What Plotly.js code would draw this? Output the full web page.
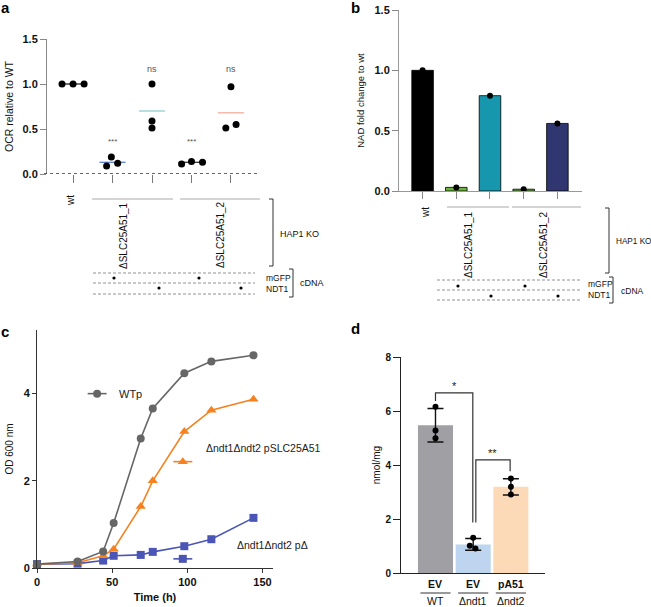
<!DOCTYPE html>
<html>
<head>
<meta charset="utf-8">
<script src="https://cdn.plot.ly/plotly-3.0.1.min.js"></script>
<style>html,body{margin:0;padding:0;background:#fff}#chart{width:651px;height:607px}</style>
</head>
<body>
<div id="chart"></div>
<script>
// ---------- DATA ----------
// Panel a: OCR relative to WT
const ocrGroups = ['wt', 'ΔSLC25A51_1 mGFP', 'ΔSLC25A51_1 NDT1', 'ΔSLC25A51_2 mGFP', 'ΔSLC25A51_2 NDT1'];
const ocrGroupIndex = [0, 0, 0, 1, 1, 1, 2, 2, 2, 3, 3, 3, 4, 4, 4];
const ocrJitter = [-0.28, 0, 0.28, -0.15, -0.03, 0.13, 0, 0, 0, -0.25, 0, 0.28, 0, -0.13, 0.13];
const ocrValues = [1.0, 1.0, 1.0, 0.09, 0.19, 0.12, 1.0, 0.59, 0.51, 0.11, 0.14, 0.13, 0.97, 0.51, 0.55];
const ocrMeans = [1.0, 0.13, 0.70, 0.13, 0.68];
const ocrSig = ['', '***', 'ns', '***', 'ns'];
const ocrSigY = [null, 0.36, 1.17, 0.36, 1.17];

// Panel b: NAD fold change to wt
const nadGroups = ['wt', 'ΔSLC25A51_1 mGFP', 'ΔSLC25A51_1 NDT1', 'ΔSLC25A51_2 mGFP', 'ΔSLC25A51_2 NDT1'];
const nadValues = [1.0, 0.03, 0.79, 0.015, 0.56];

// Panel c: growth curves
const timeH = [0, 27, 44, 51, 69, 77, 98, 116, 144];
const odWTp = [0.09, 0.15, 0.38, 1.03, 2.97, 3.66, 4.47, 4.74, 4.88];
const odSLC = [0.09, 0.12, 0.28, 0.43, 1.41, 2.00, 3.13, 3.62, 3.87];
const odEmpty = [0.09, 0.10, 0.17, 0.28, 0.30, 0.37, 0.50, 0.66, 1.15];
const growthNames = ['WTp', 'Δndt1Δndt2 pSLC25A51', 'Δndt1Δndt2 pΔ'];
const keyX = [40, 97, 97];
const keyY = [4.0, 2.44, 0.21];
const labelX = [53, 111, 132];
const labelY = [4.0, 2.75, 0.53];

// Panel d: nmol/mg
const dTop = ['EV', 'EV', 'pA51'];
const dBottom = ['WT', 'Δndt1', 'Δndt2'];
const dMeans = [5.47, 1.06, 3.19];
const dSD = [0.62, 0.22, 0.30];
const dPointGroup = [0, 0, 0, 1, 1, 1, 2, 2, 2];
const dPointJitter = [0, 0, 0, 0, -0.09, 0.06, 0, 0, 0];
const dPointValues = [6.16, 5.28, 4.99, 1.31, 1.01, 0.91, 3.50, 3.19, 2.91];

// ---------- HELPERS ----------
const W = 651, H = 607;
const X = p => p / W;
const Y = p => 1 - p / H;
const FONT = 'Liberation Sans, Arial, Helvetica, sans-serif';
const DASH = '3px,2px';
const traces = [];
const shapes = [];
const ann = [];
function pline(x0, y0, x1, y1, color, width, dash) {
  shapes.push({type: 'line', xref: 'paper', yref: 'paper', x0: X(x0), y0: Y(y0), x1: X(x1), y1: Y(y1),
    line: {color: color, width: width || 1, dash: dash || 'solid'}});
}
function pdot(x, y) {
  shapes.push({type: 'circle', xref: 'paper', yref: 'paper', x0: X(x - 1.6), x1: X(x + 1.6), y0: Y(y + 1.6), y1: Y(y - 1.6),
    fillcolor: '#000', line: {width: 0}});
}
function ptext(text, x, y, opts) {
  ann.push(Object.assign({text: text, xref: 'paper', yref: 'paper', x: X(x), y: Y(y), showarrow: false,
    font: {family: FONT, size: 9, color: '#111'}, xanchor: 'center', yanchor: 'middle'}, opts || {}));
}

// ---------- PANEL A ----------
const meanColors = ['#222', '#5b7fd6', '#92d0d2', '#333', '#f5ae9e'];
ocrMeans.forEach((m, i) => {
  traces.push({type: 'scatter', mode: 'lines', xaxis: 'x', yaxis: 'y', x: [i - 0.33, i + 0.33], y: [m, m],
    line: {color: meanColors[i], width: 1.3}, hoverinfo: 'skip'});
});
traces.push({type: 'scatter', mode: 'markers', xaxis: 'x', yaxis: 'y', cliponaxis: false,
  x: ocrGroupIndex.map((g, i) => g + ocrJitter[i]), y: ocrValues,
  marker: {color: '#000', size: 7}, hoverinfo: 'y'});
ocrSig.forEach((s, i) => {
  if (s) ann.push({text: s, x: i, y: ocrSigY[i], xref: 'x', yref: 'y', showarrow: false,
    font: {family: FONT, size: s === 'ns' ? 9 : 8, color: '#555'}});
});
shapes.push({type: 'line', xref: 'paper', yref: 'y', x0: X(44), x1: X(258), y0: 0, y1: 0,
  line: {color: '#333', width: 1.3, dash: 'dot'}});
// labels under a
ptext('wt', 70, 201, {textangle: -90, font: {family: FONT, size: 10, color: '#111'}});
pline(92, 199, 173, 199, '#aaa', 1);
pline(180, 199, 260, 199, '#aaa', 1);
ptext('ΔSLC25A51_1', 123, 235, {textangle: -90, font: {family: FONT, size: 10, color: '#111'}});
ptext('ΔSLC25A51_2', 220, 235, {textangle: -90, font: {family: FONT, size: 10, color: '#111'}});
pline(273, 199, 273, 266, '#333', 1); pline(269, 199, 273, 199, '#333', 1); pline(269, 266, 273, 266, '#333', 1);
ptext('HAP1 KO', 278, 234, {xanchor: 'left'});
[273, 283, 294].forEach(y => pline(93, y, 255, y, '#777', 0.8, DASH));
pdot(114, 278); pdot(199, 278); pdot(159, 288); pdot(241, 288);
ptext('mGFP', 264, 278, {xanchor: 'left', font: {family: FONT, size: 8.5, color: '#111'}});
ptext('NDT1', 264, 289, {xanchor: 'left', font: {family: FONT, size: 8.5, color: '#111'}});
pline(293, 269, 293, 297, '#333', 1); pline(289, 269, 293, 269, '#333', 1); pline(289, 297, 293, 297, '#333', 1);
ptext('cDNA', 298, 283, {xanchor: 'left'});

// ---------- PANEL B ----------
const nadColors = ['#000000', '#6cb33f', '#1797ae', '#6cb33f', '#2f3670'];
traces.push({type: 'bar', xaxis: 'x2', yaxis: 'y2', x: nadGroups.map((g, i) => i), y: nadValues, width: 0.64,
  marker: {color: nadColors, line: {color: '#000', width: 0.8}}, hoverinfo: 'y'});
traces.push({type: 'scatter', mode: 'markers', xaxis: 'x2', yaxis: 'y2', cliponaxis: false,
  x: nadGroups.map((g, i) => i), y: nadValues, marker: {color: '#000', size: 6}, hoverinfo: 'skip'});
ptext('wt', 425, 213, {textangle: -90, font: {family: FONT, size: 10, color: '#111'}});
pline(447, 207, 509, 207, '#aaa', 1);
pline(512, 207, 581, 207, '#aaa', 1);
ptext('ΔSLC25A51_1', 468, 245, {textangle: -90, font: {family: FONT, size: 10, color: '#111'}});
ptext('ΔSLC25A51_2', 543, 245, {textangle: -90, font: {family: FONT, size: 10, color: '#111'}});
pline(609, 208, 609, 273, '#333', 1); pline(605, 208, 609, 208, '#333', 1); pline(605, 273, 609, 273, '#333', 1);
ptext('HAP1 KO', 614, 241, {xanchor: 'left', font: {family: FONT, size: 8.2, color: '#111'}});
[280, 290, 300].forEach(y => pline(437, y, 582, y, '#777', 0.8, DASH));
pdot(458, 286); pdot(525, 286); pdot(491, 296); pdot(558, 296);
ptext('mGFP', 586, 284, {xanchor: 'left', font: {family: FONT, size: 8.5, color: '#111'}});
ptext('NDT1', 586, 295, {xanchor: 'left', font: {family: FONT, size: 8.5, color: '#111'}});
pline(613, 277, 613, 303, '#333', 1); pline(609, 277, 613, 277, '#333', 1); pline(609, 303, 613, 303, '#333', 1);
ptext('cDNA', 619, 291, {xanchor: 'left', font: {family: FONT, size: 8.5, color: '#111'}});

// ---------- PANEL C ----------
const gColors = ['#666666', '#f5821f', '#4b55b5'];
const gSymbols = ['circle', 'triangle-up', 'square'];
const gSeries = [odWTp, odSLC, odEmpty];
[2, 1, 0].forEach(k => {
  traces.push({type: 'scatter', mode: 'lines+markers', xaxis: 'x3', yaxis: 'y3', cliponaxis: false,
    name: growthNames[k], x: timeH, y: gSeries[k],
    line: {color: gColors[k], width: 1.6}, marker: {color: gColors[k], symbol: gSymbols[k], size: k === 1 ? 9 : 8}});
});
growthNames.forEach((n, k) => {
  traces.push({type: 'scatter', mode: 'lines', xaxis: 'x3', yaxis: 'y3', x: [keyX[k] - 6.3, keyX[k] + 6.3], y: [keyY[k], keyY[k]],
    line: {color: gColors[k], width: 1.6}, hoverinfo: 'skip'});
  traces.push({type: 'scatter', mode: 'markers', xaxis: 'x3', yaxis: 'y3', x: [keyX[k]], y: [keyY[k]],
    marker: {color: gColors[k], symbol: gSymbols[k], size: k === 1 ? 9 : 8}, hoverinfo: 'skip'});
  ann.push({text: n, x: labelX[k], y: labelY[k], xref: 'x3', yref: 'y3', xanchor: 'left', yanchor: 'middle', showarrow: false,
    font: {family: FONT, size: k === 0 ? 11 : 10.5, color: '#222'}});
});

// ---------- PANEL D ----------
const dColors = ['#a09fa4', '#bdd5ee', '#fcd9b7'];
traces.push({type: 'bar', xaxis: 'x4', yaxis: 'y4', x: [0, 1, 2], y: dMeans, width: 0.93,
  marker: {color: dColors, line: {width: 0}},
  error_y: {type: 'data', array: dSD, visible: true, color: '#111', thickness: 1.4, width: 8}, hoverinfo: 'y'});
traces.push({type: 'scatter', mode: 'markers', xaxis: 'x4', yaxis: 'y4',
  x: dPointGroup.map((g, i) => g + dPointJitter[i]), y: dPointValues, marker: {color: '#000', size: 6}, hoverinfo: 'y'});
const br = {color: '#333', width: 1.2};
shapes.push({type: 'path', xref: 'x4', yref: 'y4', path: 'M0,6.37 L0,6.67 L0.99,6.67 L0.99,1.87', line: br});
shapes.push({type: 'path', xref: 'x4', yref: 'y4', path: 'M1.07,1.87 L1.07,4.19 L1.98,4.19 L1.98,3.77', line: br});
ann.push({text: '*', x: 0.5, y: 6.92, xref: 'x4', yref: 'y4', showarrow: false, font: {family: FONT, size: 11, color: '#222'}});
ann.push({text: '**', x: 1.52, y: 4.45, xref: 'x4', yref: 'y4', showarrow: false, font: {family: FONT, size: 11, color: '#222'}});
dTop.forEach((t, i) => {
  ann.push({text: '<b>' + t + '</b>', x: i, xref: 'x4', y: Y(584), yref: 'paper', showarrow: false, yanchor: 'middle',
    font: {family: FONT, size: 10.5, color: '#111'}});
  ann.push({text: dBottom[i], x: i, xref: 'x4', y: Y(601), yref: 'paper', showarrow: false, yanchor: 'middle',
    font: {family: FONT, size: 10.5, color: '#111'}});
  shapes.push({type: 'line', xref: 'x4', yref: 'paper', x0: i - 0.4, x1: i + 0.4, y0: Y(593), y1: Y(593),
    line: {color: '#333', width: 1}});
});

// ---------- PANEL LABELS ----------
[['a', 5, 8], ['b', 355, 7], ['c', 5, 331], ['d', 355, 329]].forEach(l => {
  ptext('<b>' + l[0] + '</b>', l[1], l[2], {font: {family: FONT, size: 15, color: '#000'}});
});

// ---------- LAYOUT ----------
const tf = (s) => ({family: FONT, size: s, color: '#111', weight: 'bold'});
const layout = {
  width: W, height: H, margin: {l: 0, r: 0, t: 0, b: 0}, showlegend: false,
  paper_bgcolor: '#fff', plot_bgcolor: 'rgba(0,0,0,0)', font: {family: FONT},
  xaxis: {domain: [X(47), X(257)], range: [-0.66, 4.66], anchor: 'y', showgrid: false, zeroline: false, showline: false,
    tickvals: [0, 1, 2, 3, 4], ticks: 'outside', ticklen: 8, tickcolor: '#777', showticklabels: false, fixedrange: true},
  yaxis: {domain: [Y(174), Y(39)], range: [0, 1.5], anchor: 'x', showgrid: false, zeroline: false, showline: true, linecolor: '#888',
    tickvals: [0, 0.5, 1, 1.5], ticktext: ['0.0', '0.5', '1.0', '1.5'], ticks: 'outside', ticklen: 6, tickcolor: '#888',
    tickfont: tf(11), title: {text: 'OCR relative to WT', font: {family: FONT, size: 10.5, color: '#111'}, standoff: 6}},
  xaxis2: {domain: [X(399), X(582)], range: [-0.7, 4.73], anchor: 'y2', showgrid: false, zeroline: false, showline: true, linecolor: '#999',
    tickvals: [0, 1, 2, 3, 4], ticks: 'outside', ticklen: 7, tickcolor: '#888', showticklabels: false},
  yaxis2: {domain: [Y(191), Y(10)], range: [0, 1.5], anchor: 'x2', showgrid: false, zeroline: false, showline: true, linecolor: '#999',
    tickvals: [0, 0.5, 1, 1.5], ticktext: ['0.0', '0.5', '1.0', '1.5'], ticks: 'outside', ticklen: 6, tickcolor: '#888',
    tickfont: tf(11), title: {text: 'NAD fold change to wt', font: {family: FONT, size: 9.5, color: '#111'}, standoff: 8}},
  xaxis3: {domain: [X(37), X(273)], range: [0, 157], anchor: 'y3', showgrid: false, zeroline: false, showline: true, linecolor: '#333',
    tickvals: [0, 50, 100, 150], ticks: 'outside', ticklen: 4, tickcolor: '#333', tickfont: tf(11),
    title: {text: '<b>Time (h)</b>', font: {family: FONT, size: 11, color: '#111'}, standoff: 6}},
  yaxis3: {domain: [Y(568), Y(330)], range: [0, 5.46], anchor: 'x3', showgrid: false, zeroline: false, showline: true, linecolor: '#333',
    tickvals: [0, 2, 4], ticks: 'outside', ticklen: 4, tickcolor: '#333', tickfont: tf(11),
    title: {text: 'OD 600 nm', font: {family: FONT, size: 10, color: '#111'}, standoff: 8}},
  xaxis4: {domain: [X(401), X(545)], range: [-0.915, 2.905], anchor: 'y4', showgrid: false, zeroline: false, showline: true, linecolor: '#222',
    tickvals: [0, 1, 2], ticks: '', showticklabels: false},
  yaxis4: {domain: [Y(573), Y(357)], range: [0, 8], anchor: 'x4', showgrid: false, zeroline: false, showline: true, linecolor: '#222',
    tickvals: [0, 2, 4, 6, 8], ticks: 'outside', ticklen: 7, tickcolor: '#222', tickfont: tf(10),
    title: {text: 'nmol/mg', font: {family: FONT, size: 10, color: '#111'}, standoff: 2}},
  shapes: shapes, annotations: ann
};
Plotly.newPlot('chart', traces, layout, {displayModeBar: false, staticPlot: true});
</script>
</body>
</html>
